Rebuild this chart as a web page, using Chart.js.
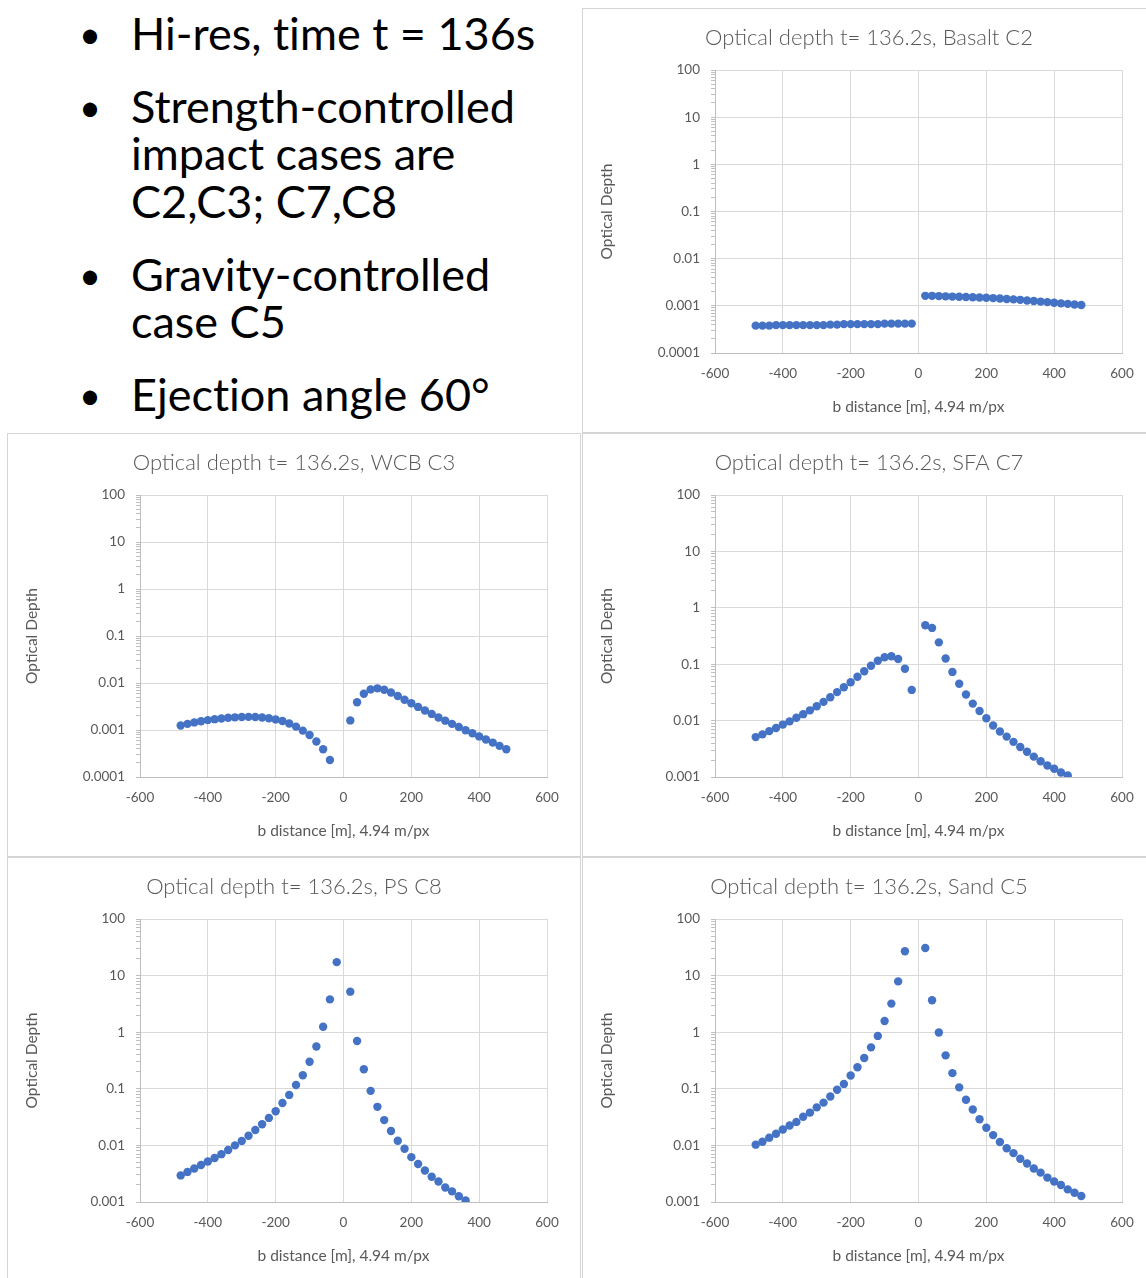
<!DOCTYPE html>
<html>
<head>
<meta charset="utf-8">
<script src="https://cdn.jsdelivr.net/npm/chart.js@4.4.1/dist/chart.umd.min.js"></script>
<style>
  html, body { margin: 0; padding: 0; background: #fff; }
  body { width: 1146px; height: 1278px; position: relative; overflow: hidden; }
  .panel { position: absolute; width: 572px; outline: 1px solid #d4d4d4; background: #fff; }
  .panel canvas { display: block; }
  #notes { position: absolute; left: 0; top: 10px; font-family: Lato, sans-serif; font-size: 45px; line-height: 47.3px; color: #000; font-variant-ligatures: none; }
  #notes ul { list-style: none; margin: 0; padding: 0 0 0 131px; }
  #notes li { position: relative; margin-bottom: 25.8px; }
  #notes li::before { content: "\2022"; position: absolute; left: -52px; font-size: 38px; }
</style>
</head>
<body>

<div id="notes">
  <ul>
    <li>Hi-res, time t = 136s</li>
    <li>Strength-controlled<br>impact cases are<br>C2,C3; C7,C8</li>
    <li>Gravity-controlled<br>case C5</li>
    <li>Ejection angle 60&deg;</li>
  </ul>
</div>

<div class="panel" style="left:583px; top:9px; height:423px;"><canvas id="c2" width="572" height="423"></canvas></div>
<div class="panel" style="left:8px; top:434px; height:422px;"><canvas id="c3" width="572" height="422"></canvas></div>
<div class="panel" style="left:583px; top:434px; height:422px;"><canvas id="c7" width="572" height="422"></canvas></div>
<div class="panel" style="left:8px; top:858px; height:423px;"><canvas id="c8" width="572" height="423"></canvas></div>
<div class="panel" style="left:583px; top:858px; height:423px;"><canvas id="c5" width="572" height="423"></canvas></div>

<script>
const xTickValues = [-600, -400, -200, 0, 200, 400, 600];
const decadesFrom4 = [0.0001, 0.001, 0.01, 0.1, 1, 10, 100];
const decadesFrom3 = [0.001, 0.01, 0.1, 1, 10, 100];

// b distance [m] of the sampled columns
const basaltX = [-480, -460, -440, -420, -400, -380, -360, -340, -320, -300, -280, -260, -240, -220, -200, -180, -160, -140, -120, -100, -80, -60, -40, -20,
    20, 40, 60, 80, 100, 120, 140, 160, 180, 200, 220, 240, 260, 280, 300, 320, 340, 360, 380, 400, 420, 440, 460, 480];
const basaltTau = [0.00038, 0.00038, 0.00038, 0.00039, 0.00039, 0.00039, 0.00039, 0.00039, 0.00039, 0.00039, 0.00039, 0.00040, 0.00040, 0.00041, 0.00041, 0.00041, 0.00041, 0.00041, 0.00041, 0.00042, 0.00042, 0.00042, 0.00042, 0.00042,
    0.00163, 0.00163, 0.00161, 0.00159, 0.00157, 0.00156, 0.00154, 0.00152, 0.00150, 0.00148, 0.00146, 0.00143, 0.00140, 0.00137, 0.00134, 0.00130, 0.00127, 0.00123, 0.00120, 0.00116, 0.00113, 0.00110, 0.00107, 0.00104];

const wcbX = [-480, -460, -440, -420, -400, -380, -360, -340, -320, -300, -280, -260, -240, -220, -200, -180, -160, -140, -120, -100, -80, -60, -40,
    20, 40, 60, 80, 100, 120, 140, 160, 180, 200, 220, 240, 260, 280, 300, 320, 340, 360, 380, 400, 420, 440, 460, 480];
const wcbTau = [0.00125, 0.00135, 0.00145, 0.00153, 0.00162, 0.00170, 0.00176, 0.00182, 0.00186, 0.00189, 0.00190, 0.00189, 0.00185, 0.00178, 0.00168, 0.00155, 0.00138, 0.00118, 0.00097, 0.00078, 0.00057, 0.00039, 0.00023,
    0.0016, 0.0039, 0.0059, 0.0073, 0.0077, 0.0072, 0.0063, 0.0053, 0.0044, 0.0037, 0.0031, 0.0026, 0.0022, 0.00185, 0.00158, 0.00135, 0.00116, 0.00099, 0.00085, 0.00073, 0.00063, 0.00054, 0.00046, 0.00039];

const sfaX = [-480, -460, -440, -420, -400, -380, -360, -340, -320, -300, -280, -260, -240, -220, -200, -180, -160, -140, -120, -100, -80, -60, -40, -20,
    20, 40, 60, 80, 100, 120, 140, 160, 180, 200, 220, 240, 260, 280, 300, 320, 340, 360, 380, 400, 420, 440];
const sfaTau = [0.0051, 0.0057, 0.0065, 0.0074, 0.0085, 0.0097, 0.0112, 0.0130, 0.0152, 0.0180, 0.0215, 0.026, 0.032, 0.039, 0.048, 0.060, 0.075, 0.094, 0.115, 0.133, 0.138, 0.124, 0.083, 0.035,
    0.49, 0.44, 0.244, 0.126, 0.073, 0.045, 0.029, 0.020, 0.0148, 0.011, 0.0082, 0.0064, 0.0052, 0.0042, 0.0034, 0.0028, 0.0023, 0.0019, 0.0016, 0.0014, 0.0012, 0.00106];

const psX = [-480, -460, -440, -420, -400, -380, -360, -340, -320, -300, -280, -260, -240, -220, -200, -180, -160, -140, -120, -100, -80, -60, -40, -20,
    20, 40, 60, 80, 100, 120, 140, 160, 180, 200, 220, 240, 260, 280, 300, 320, 340, 360];
const psTau = [0.00295, 0.0034, 0.0039, 0.0045, 0.0052, 0.0060, 0.0070, 0.0083, 0.0100, 0.0120, 0.0148, 0.0187, 0.0236, 0.0306, 0.040, 0.056, 0.078, 0.117, 0.174, 0.30, 0.56, 1.25, 3.8, 17.3,
    5.2, 0.70, 0.222, 0.092, 0.048, 0.028, 0.018, 0.0121, 0.0087, 0.0062, 0.0047, 0.0036, 0.0028, 0.0023, 0.0018, 0.00154, 0.00126, 0.00106];

const sandX = [-480, -460, -440, -420, -400, -380, -360, -340, -320, -300, -280, -260, -240, -220, -200, -180, -160, -140, -120, -100, -80, -60, -40,
    20, 40, 60, 80, 100, 120, 140, 160, 180, 200, 220, 240, 260, 280, 300, 320, 340, 360, 380, 400, 420, 440, 460, 480];
const sandTau = [0.0103, 0.0116, 0.0137, 0.0161, 0.0191, 0.0225, 0.026, 0.032, 0.038, 0.047, 0.057, 0.073, 0.096, 0.122, 0.172, 0.24, 0.35, 0.54, 0.86, 1.58, 3.2, 7.9, 27,
    30.8, 3.67, 0.99, 0.39, 0.189, 0.106, 0.064, 0.043, 0.029, 0.0205, 0.0152, 0.0115, 0.0089, 0.0073, 0.0058, 0.0048, 0.0039, 0.0033, 0.0027, 0.0023, 0.0020, 0.00167, 0.00146, 0.00128];

const panels = [
    {id: 'c2', title: 'Optical depth t= 136.2s, Basalt C2', x: basaltX, tau: basaltTau, decades: decadesFrom4},
    {id: 'c3', title: 'Optical depth t= 136.2s, WCB C3', x: wcbX, tau: wcbTau, decades: decadesFrom4},
    {id: 'c7', title: 'Optical depth t= 136.2s, SFA C7', x: sfaX, tau: sfaTau, decades: decadesFrom3},
    {id: 'c8', title: 'Optical depth t= 136.2s, PS C8', x: psX, tau: psTau, decades: decadesFrom3},
    {id: 'c5', title: 'Optical depth t= 136.2s, Sand C5', x: sandX, tau: sandTau, decades: decadesFrom3}
];

const textColor = '#595959';
const gridColor = '#d9d9d9';
const axisColor = '#bfbfbf';

Chart.defaults.font.family = 'Lato, sans-serif';
Chart.defaults.color = textColor;

// decade ticks carry labels and grid lines, 2..9 in between are minor marks only
const logTicks = (decades) => {
    let ticks = [];
    decades.forEach((d, i) => {
        ticks.push({value: d, major: true});
        if (i < decades.length - 1)
            for (let m = 2; m < 10; m++)
                ticks.push({value: d * m, major: false});
    });
    return ticks;
};

const makeChart = (panel) => {
    let points = panel.x.map((b, i) => ({x: b, y: panel.tau[i]}));

    let config = {
        type: 'scatter',
        data: {
            datasets: [{
                data: points,
                backgroundColor: '#4472c4',
                borderWidth: 0,
                pointRadius: 4.2
            }]
        },
        options: {
            responsive: false,
            animation: false,
            layout: {
                padding: {top: 0, right: 33, bottom: 0, left: 33}
            },
            plugins: {
                legend: {display: false},
                tooltip: {enabled: false},
                title: {
                    display: true,
                    text: panel.title,
                    color: textColor,
                    font: {size: 22, weight: 300},
                    padding: {top: 16, bottom: 18.6}
                }
            },
            scales: {
                x: {
                    type: 'linear',
                    min: -600,
                    max: 600,
                    afterBuildTicks: (scale) => {
                        scale.ticks = xTickValues.map(v => ({value: v}));
                    },
                    afterFit: (scale) => {
                        scale.height = 79;
                        scale.paddingLeft = 0;
                        scale.paddingRight = 0;
                    },
                    ticks: {
                        font: {size: 13.5},
                        padding: 13,
                        maxRotation: 0,
                        autoSkip: false
                    },
                    grid: {color: gridColor, drawTicks: false},
                    border: {color: axisColor},
                    title: {
                        display: true,
                        text: 'b distance [m], 4.94 m/px',
                        font: {size: 15.5},
                        padding: {top: 0, bottom: 15.5}
                    }
                },
                y: {
                    type: 'logarithmic',
                    min: panel.decades[0],
                    max: panel.decades[panel.decades.length - 1],
                    afterBuildTicks: (scale) => {
                        scale.ticks = logTicks(panel.decades);
                    },
                    afterFit: (scale) => {
                        scale.width = 99;
                        scale.paddingTop = 0;
                        scale.paddingBottom = 0;
                    },
                    ticks: {
                        font: {size: 13.5},
                        padding: 11,
                        autoSkip: false,
                        callback: (value, index, ticks) => ticks[index].major ? String(value) : ''
                    },
                    grid: {
                        color: (ctx) => ctx.tick && ctx.tick.major ? gridColor : 'rgba(0,0,0,0)',
                        tickColor: axisColor,
                        tickLength: 4
                    },
                    border: {color: axisColor},
                    title: {
                        display: true,
                        text: 'Optical Depth',
                        font: {size: 15.5},
                        // pulled back over the left layout padding
                        padding: {top: -18.3, bottom: 0}
                    }
                }
            }
        }
    };

    new Chart(document.getElementById(panel.id), config);
};

panels.forEach(makeChart);
</script>
</body>
</html>
